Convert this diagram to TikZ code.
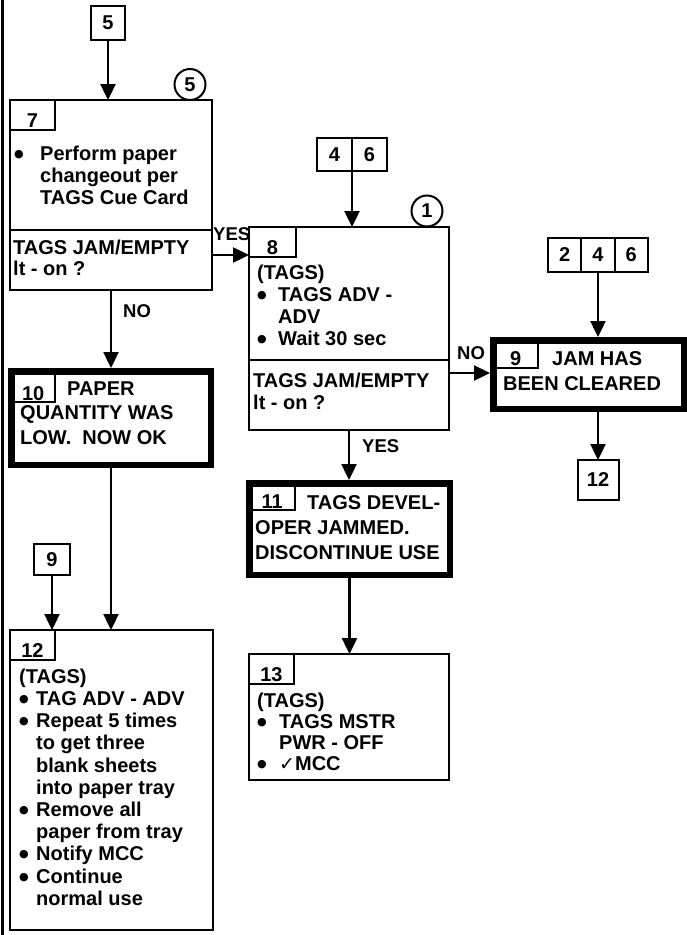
\documentclass[tikz,border=0pt]{standalone}
\usepackage{fontspec}
\setmainfont{Liberation Sans}
\newfontfamily\dvs{DejaVu Sans}
\usetikzlibrary{arrows.meta}
\newcommand\fsz{\fontsize{20pt}{22pt}\selectfont\bfseries}
\newcommand\fszw[1]{\fontsize{20pt}{#1}\selectfont\bfseries}
\newcommand\fl{\rule{0pt}{14.5pt}}
\newcommand\bu[1]{\makebox[#1][l]{\raisebox{3pt}{\dvs\fontsize{11pt}{11pt}\selectfont ●}}}
\newcommand\ind[1]{\hspace*{#1}}
\begin{document}
\begin{tikzpicture}[x=1pt,y=-1pt,
  pbox/.style={draw, line width=2pt, inner sep=0pt, outer sep=0pt, font=\fsz},
  tbox/.style={draw, line width=6.5pt, inner sep=0pt},
  arr/.style={line width=2.4pt, -{Triangle[length=16pt,width=15pt]}},
  txt/.style={anchor=north west, inner sep=0pt, align=left, font=\fsz},
  num/.style={anchor=south, inner sep=0pt, font=\fsz, text depth=0pt},
  edgelbl/.style={anchor=base west, inner sep=0pt, font=\fontsize{18.5pt}{20pt}\selectfont\bfseries},
  ring/.style={draw, circle, line width=2pt, minimum size=31pt, inner sep=0pt, font=\fsz}]
\fill[white] (0,0) rectangle (687,935);
\useasboundingbox (0,0) rectangle (687,935);
% page edge
\draw[line width=2.5pt] (2.5,0) -- (2.5,935);

% ---- box 7 column ----
\node[pbox, minimum width=34pt, minimum height=34pt] (r5) at (108,23) {5};
\node[ring] (c5) at (190,84.5) {5};
\node[pbox, minimum width=202pt, minimum height=190pt] (b7) at (111,195) {};
\draw[line width=2pt] (b7.west |- 0,230) -- (b7.east |- 0,230);
\node[pbox, minimum width=45pt, minimum height=30pt, anchor=north west] (l7) at (b7.north west) {};
\node[num] (n7) at ([yshift=2pt]l7.south) {7};
\node[txt] (t7) at (14,145.5) {\fl\bu{26pt}Perform paper\\\ind{26pt}changeout per\\\ind{26pt}TAGS Cue Card};
\node[txt] (q7) at (13,239.5) {\fl TAGS JAM/EMPTY\\[-1pt]lt - on ?};
\draw[arr] (r5) -- (r5.south |- b7.north);

% ---- box 10 ----
\node[tbox, minimum width=199.5pt, minimum height=93.5pt] (b10) at (111,418) {};
\node[pbox, minimum width=44pt, minimum height=31pt, anchor=north west] (l10) at (11.25,371.25) {};
\node[num] (n10) at ([yshift=2pt]l10.south) {10};
\node[txt, font=\fszw{24.5pt}] (t10) at (20,380.5) {\fl\ind{47pt}PAPER\\QUANTITY WAS\\LOW.\ \ NOW OK};
\node[edgelbl] (no1) at (123,317) {NO};
\draw[arr] (b7.south) -- (b7.south |- b10.north);

% ---- box 12 ----
\node[pbox, minimum width=36pt, minimum height=31pt] (r9) at (52,559.5) {9};
\node[pbox, minimum width=203pt, minimum height=300pt] (b12) at (111.5,780) {};
\node[pbox, minimum width=45pt, minimum height=30pt, anchor=north west] (l12) at (b12.north west) {};
\node[num] (n12) at ([yshift=2pt]l12.south) {12};
\node[txt, font=\fszw{22.2pt}] (t12) at (19,668.5) {\fl(TAGS)\\\bu{17pt}TAG ADV - ADV\\\bu{17pt}Repeat 5 times\\\ind{17pt}to get three\\\ind{17pt}blank sheets\\\ind{17pt}into paper tray\\\bu{17pt}Remove all\\\ind{17pt}paper from tray\\\bu{17pt}Notify MCC\\\bu{17pt}Continue\\\ind{17pt}normal use};
\draw[arr] (r9) -- (r9.south |- b12.north);
\draw[arr] (b10.south) -- (b10.south |- b12.north);

% ---- box 8 column ----
\node[pbox, minimum width=35pt, minimum height=33pt] (r46a) at (334.5,154.5) {4};
\node[pbox, minimum width=35pt, minimum height=33pt] (r46b) at (369.5,154.5) {6};
\node[ring] (c1) at (427,211) {1};
\node[pbox, minimum width=200pt, minimum height=203pt] (b8) at (349,328.5) {};
\draw[line width=2pt] (b8.west |- 0,360) -- (b8.east |- 0,360);
\node[pbox, minimum width=47pt, minimum height=30pt, anchor=north west] (l8) at (b8.north west) {};
\node[num] (n8) at ([yshift=2pt]l8.south) {8};
\node[txt] (t8) at (257,264.5) {\fl(TAGS)\\\bu{21pt}TAGS ADV -\\\ind{21pt}ADV\\\bu{21pt}Wait 30 sec};
\node[txt] (q8) at (253,372.5) {\fl TAGS JAM/EMPTY\\lt - on ?};
\draw[arr] (r46a.south east) -- (r46a.south east |- b8.north);
\coordinate (y7) at (212,255);
\node[edgelbl] (yes1) at (213,240) {YES};
\draw[arr] (y7) -- (y7 -| b8.west);

% ---- box 11 ----
\node[tbox, minimum width=200.5pt, minimum height=91.5pt] (b11) at (349.5,529) {};
\node[pbox, minimum width=46pt, minimum height=27pt, anchor=north west] (l11) at (249.25,483.25) {};
\node[num] (n11) at ([yshift=2pt]l11.south) {11};
\node[txt, font=\fszw{25pt}] (t11) at (255,494.5) {\fl\ind{52pt}TAGS DEVEL-\\OPER JAMMED.\\DISCONTINUE USE};
\node[edgelbl] (yes2) at (362,452) {YES};
\draw[arr] (b8.south) -- (b8.south |- b11.north);

% ---- box 13 ----
\node[pbox, minimum width=200pt, minimum height=126pt] (b13) at (349,717) {};
\node[pbox, minimum width=45pt, minimum height=30pt, anchor=north west] (l13) at (b13.north west) {};
\node[num] (n13) at ([yshift=2pt]l13.south) {13};
\node[txt, font=\fszw{21pt}] (t13) at (257,692.5) {\fl(TAGS)\\\bu{22pt}TAGS MSTR\\\ind{22pt}PWR - OFF\\\bu{22pt}{\dvs\bfseries\fontsize{19pt}{19pt}\selectfont ✓}MCC};
\draw[arr] (b11.south) -- (b11.south |- b13.north);

% ---- box 9 column ----
\node[pbox, minimum width=33.3pt, minimum height=34pt] (r246a) at (564.7,255) {2};
\node[pbox, minimum width=33.3pt, minimum height=34pt] (r246b) at (598,255) {4};
\node[pbox, minimum width=33.3pt, minimum height=34pt] (r246c) at (631.3,255) {6};
\node[tbox, minimum width=190.5pt, minimum height=68.5pt] (b9) at (588.5,374.5) {};
\node[pbox, minimum width=45pt, minimum height=27.5pt, anchor=north west] (l9) at (493.25,340.25) {};
\node[num] (n9) at ([yshift=2pt]l9.south) {9};
\node[txt, font=\fszw{25pt}] (t9) at (503,350.5) {\fl\ind{49pt}JAM HAS\\BEEN CLEARED};
\node[pbox, minimum width=41pt, minimum height=40pt] (r12) at (598,480) {12};
\draw[arr] (r246b) -- (r246b.south |- b9.north);
\coordinate (n8r) at (449,373);
\node[edgelbl] (no2) at (457,359) {NO};
\draw[arr] (n8r) -- (n8r -| b9.west);
\draw[arr] (r12.north |- b9.south) -- (r12.north);
\end{tikzpicture}
\end{document}
